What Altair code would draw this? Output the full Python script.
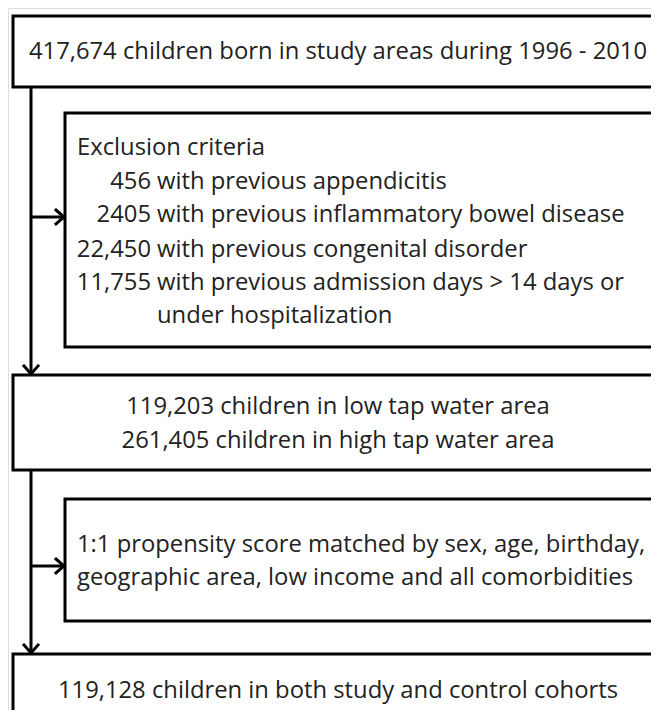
import altair as alt
import pandas as pd

# ---- content ----
box1_text = ["417,674 children born in study areas during 1996 - 2010"]
excl_title = "Exclusion criteria"
excl_counts = ["456", "2405", "22,450", "11,755", ""]
excl_rest = ["with previous appendicitis",
             "with previous inflammatory bowel disease",
             "with previous congenital disorder",
             "with previous admission days > 14 days or",
             "under hospitalization"]
box3_text = ["119,203 children in low tap water area",
             "261,405 children in high tap water area"]
box4_text = ["1:1 propensity score matched by sex, age, birthday,",
             "geographic area, low income and all comorbidities"]
box5_text = ["119,128 children in both study and control cohorts"]

# ---- layout (pixel-like coordinates) ----
boxes = pd.DataFrame({
    "x": [13, 65, 13, 65, 13],
    "x2": [668, 668, 668, 668, 668],
    "y": [16, 113, 375, 499, 654],
    "y2": [87, 347, 470, 621, 740],
})

segs_h = pd.DataFrame({"x": [31, 31], "x2": [63, 63], "y": [217, 566]})
segs_v = pd.DataFrame({"x": [31, 31], "y": [87, 470], "y2": [373, 652]})

heads = []
for i, (tx, ty, d) in enumerate([(65, 217, "r"), (65, 566, "r"), (31, 375, "d"), (31, 654, "d")]):
    if d == "r":
        pts = [(tx - 9, ty - 7), (tx - 1, ty), (tx - 9, ty + 7)]
    else:
        pts = [(tx - 7, ty - 9), (tx, ty - 1), (tx + 7, ty - 9)]
    for k, (px, py) in enumerate(pts):
        heads.append({"id": i, "o": k, "x": px, "y": py})
heads = pd.DataFrame(heads)

center_x = 338
texts_c = pd.DataFrame({
    "t": box1_text + box3_text + box5_text,
    "x": [center_x] * 4,
    "y": [52, 407, 441, 691],
})
texts_l = pd.DataFrame({
    "t": [excl_title] + excl_rest + box4_text,
    "x": [77] + [157] * 5 + [77, 77],
    "y": [148, 182, 215, 250, 283, 316, 545, 578],
})
texts_r = pd.DataFrame({
    "t": excl_counts[:4],
    "x": [151] * 4,
    "y": [182, 215, 250, 283],
})

W, H = 643, 702
xs = alt.Scale(domain=[8, 8 + W], nice=False, zero=False)
ys = alt.Scale(domain=[8, 8 + H], nice=False, zero=False, reverse=True)
noax = None

FONT = "Open Sans"
FS = 23.8
TC = "#222222"

box_layer = alt.Chart(boxes).mark_rect(fill="white", stroke="black", strokeWidth=3, clip=True).encode(
    x=alt.X("x:Q", scale=xs, axis=noax), x2="x2:Q",
    y=alt.Y("y:Q", scale=ys, axis=noax), y2="y2:Q")

hline = alt.Chart(segs_h).mark_rule(color="black", strokeWidth=3).encode(
    x=alt.X("x:Q", scale=xs, axis=noax), x2="x2:Q",
    y=alt.Y("y:Q", scale=ys, axis=noax))
vline = alt.Chart(segs_v).mark_rule(color="black", strokeWidth=3).encode(
    x=alt.X("x:Q", scale=xs, axis=noax),
    y=alt.Y("y:Q", scale=ys, axis=noax), y2="y2:Q")

head_layer = alt.Chart(heads).mark_line(color="black", strokeWidth=3, strokeJoin="miter", strokeCap="square").encode(
    x=alt.X("x:Q", scale=xs, axis=noax),
    y=alt.Y("y:Q", scale=ys, axis=noax),
    detail="id:N", order="o:Q")

tc = alt.Chart(texts_c).mark_text(font=FONT, fontSize=FS, color=TC, align="center", baseline="middle").encode(
    x=alt.X("x:Q", scale=xs, axis=noax), y=alt.Y("y:Q", scale=ys, axis=noax), text="t:N")
tl = alt.Chart(texts_l).mark_text(font=FONT, fontSize=FS, color=TC, align="left", baseline="middle").encode(
    x=alt.X("x:Q", scale=xs, axis=noax), y=alt.Y("y:Q", scale=ys, axis=noax), text="t:N")
tr = alt.Chart(texts_r).mark_text(font=FONT, fontSize=FS, color=TC, align="right", baseline="middle").encode(
    x=alt.X("x:Q", scale=xs, axis=noax), y=alt.Y("y:Q", scale=ys, axis=noax), text="t:N")

chart = alt.layer(box_layer, vline, hline, head_layer, tc, tl, tr).properties(
    width=W, height=H, padding=0, autosize=alt.AutoSizeParams(type="none")
).configure_view(stroke=None).configure(background="white")

chart.save("out.html", embed_options={"renderer": "svg", "actions": False})
